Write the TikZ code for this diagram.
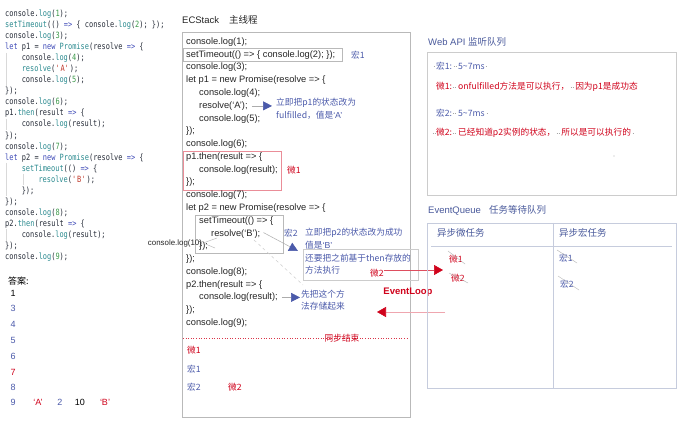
\documentclass[tikz,border=0pt]{standalone}
\usepackage{fontspec}
\setmainfont{Liberation Sans}
\newfontfamily\cjk{Noto Sans CJK SC}
\newfontfamily\codefont[FakeStretch=0.81]{DejaVu Sans Mono}
\usetikzlibrary{arrows.meta}
\definecolor{blueT}{HTML}{4B5AAA}
\definecolor{redT}{HTML}{D0021B}
\definecolor{titleT}{HTML}{4A5A9C}
\definecolor{kwC}{HTML}{3F4BB8}
\definecolor{fnC}{HTML}{2A8A8F}
\definecolor{numC}{HTML}{3C9A4A}
\definecolor{strC}{HTML}{C0392B}
\definecolor{codeC}{HTML}{262C38}
\definecolor{eqC}{HTML}{C6CCDD}
\newcommand{\kw}[1]{\textcolor{kwC}{#1}}
\newcommand{\fnn}[1]{\textcolor{fnC}{#1}}
\newcommand{\nm}[1]{\textcolor{numC}{#1}}
\newcommand{\cstr}[1]{\textcolor{strC}{#1}}
\newcommand{\dotsp}[1][6pt]{{\color{gray!70}\leaders\hbox to 2pt{\hss\vrule height 0.36em depth -0.31em width 1pt\hss}\hskip #1\relax}}
\newcommand{\q}{\textquotesingle}
\begin{document}
\begin{tikzpicture}[x=1pt,y=-1pt,
  code/.style={anchor=west,inner sep=0pt,text height=6.5pt,text depth=1.5pt,font=\codefont\fontsize{8.6}{9}\selectfont,text=codeC},
  mc/.style={anchor=west,inner sep=0pt,text height=7pt,text depth=2pt,font=\fontsize{9.3}{11}\selectfont,text=black!85},
  cjkb/.style={inner sep=0pt,font=\cjk\fontsize{8.7}{12.5}\selectfont,text=blueT},
  cjkr/.style={inner sep=0pt,font=\cjk\fontsize{8.7}{12.5}\selectfont,text=redT},
  ans/.style={anchor=west,inner sep=0pt,font=\fontsize{9}{10}\selectfont},
  ttl/.style={anchor=west,inner sep=0pt,font=\fontsize{9.5}{11}\selectfont},
  glink/.style={draw=gray!65,line width=0.5pt},
  btip/.style={-{Triangle[color=blueT,fill=blueT,length=9pt,width=9pt]}},
  rtip/.style={-{Triangle[color=redT,fill=redT,length=9pt,width=10pt]}},
  strike/.style={draw=gray!60,line width=0.4pt},
  guide/.style={draw=gray!30,line width=0.6pt}]
\useasboundingbox (0,0) rectangle (686,427);
\fill[white] (0,0) rectangle (686,427);

% ---------- left source code ----------
\draw[guide] (6,53) -- (6,86);
\draw[guide] (6,119) -- (6,130);
\draw[guide] (6,163) -- (6,196);
\draw[guide] (23,174) -- (23,185);
\draw[guide] (6,229) -- (6,241);
\node[code] (l0)  at (5,14.0)   {console.\fnn{log}(\nm{1});};
\node[code] (l1)  at (5,25.1)   {\fnn{setTimeout}(() \kw{=>} \{ console.\fnn{log}(\nm{2}); \});};
\node[code] (l2)  at (5,36.1)   {console.\fnn{log}(\nm{3});};
\node[code] (l3)  at (5,47.2)   {\kw{let} p1 = \kw{new} \fnn{Promise}(resolve \kw{=>} \{};
\node[code] (l4)  at (21.6,58.2) {console.\fnn{log}(\nm{4});};
\node[code] (l5)  at (21.6,69.3) {\fnn{resolve}(\cstr{\q A\q});};
\node[code] (l6)  at (21.6,80.3) {console.\fnn{log}(\nm{5});};
\node[code] (l7)  at (5,91.4)   {\});};
\node[code] (l8)  at (5,102.4)  {console.\fnn{log}(\nm{6});};
\node[code] (l9)  at (5,113.5)  {p1.\fnn{then}(result \kw{=>} \{};
\node[code] (l10) at (21.6,124.5) {console.\fnn{log}(result);};
\node[code] (l11) at (5,135.6)  {\});};
\node[code] (l12) at (5,146.6)  {console.\fnn{log}(\nm{7});};
\node[code] (l13) at (5,157.7)  {\kw{let} p2 = \kw{new} \fnn{Promise}(resolve \kw{=>} \{};
\node[code] (l14) at (21.6,168.7) {\fnn{setTimeout}(() \kw{=>} \{};
\node[code] (l15) at (38.3,179.8) {\fnn{resolve}(\cstr{\q B\q});};
\node[code] (l16) at (21.6,190.8) {\});};
\node[code] (l17) at (5,201.9)  {\});};
\node[code] (l18) at (5,212.9)  {console.\fnn{log}(\nm{8});};
\node[code] (l19) at (5,224.0)  {p2.\fnn{then}(result \kw{=>} \{};
\node[code] (l20) at (21.6,235.0) {console.\fnn{log}(result);};
\node[code] (l21) at (5,246.1)  {\});};
\node[code] (l22) at (5,257.1)  {console.\fnn{log}(\nm{9});};

% ---------- answers ----------
\node[ans,font=\cjk\fontsize{9}{10}\selectfont] (a0) at (8,281) {答案:};
\node[ans] (a1) at (10.5,293) {1};
\node[ans,text=blueT] (a3) at (10.5,308.5) {3};
\node[ans,text=blueT] (a4) at (10.5,324.5) {4};
\node[ans,text=blueT] (a5) at (10.5,340.5) {5};
\node[ans,text=blueT] (a6) at (10.5,356.5) {6};
\node[ans,text=redT]  (a7) at (10.5,372) {7};
\node[ans,text=blueT] (a8) at (10.5,387) {8};
\node[ans,text=blueT] (a9) at (10.5,402) {9};
\node[ans,text=redT,anchor=center]  (aA) at (38,402) {`A'};
\node[ans,text=blueT,anchor=center] (a2) at (60,402) {2};
\node[ans,anchor=center] (a10) at (80,402) {10};
\node[ans,text=redT,anchor=center]  (aB) at (105,402) {`B'};

% ---------- ECStack panel ----------
\node[ttl,text=black!85] (ect) at (182,20) {ECStack\hspace{10pt}{\cjk 主线程}};
\draw[gray!55,line width=0.7pt] (182,32) rectangle (410,417);
\draw[gray!55,line width=0.6pt] (183,48.5) rectangle (342,61.5);
\draw[draw=redT!45,line width=0.6pt] (183,151) rectangle (281,190);
\draw[gray!55,line width=0.6pt] (195,215) rectangle (283,253);

\node[mc] (m0)  at (186,42.0)  {console.log(1);};
\node[mc] (m1)  at (186,54.8)  {setTimeout(() => \{ console.log(2); \});};
\node[mc] (m2)  at (186,67.5)  {console.log(3);};
\node[mc] (m3)  at (186,80.3)  {let p1 = new Promise(resolve => \{};
\node[mc] (m4)  at (199,93.1)  {console.log(4);};
\node[mc] (m5)  at (199,105.9) {resolve(`A');};
\node[mc] (m6)  at (199,118.6) {console.log(5);};
\node[mc] (m7)  at (186,131.4) {\});};
\node[mc] (m8)  at (186,144.2) {console.log(6);};
\node[mc] (m9)  at (186,156.9) {p1.then(result => \{};
\node[mc] (m10) at (199,169.7) {console.log(result);};
\node[mc] (m11) at (186,182.5) {\});};
\node[mc] (m12) at (186,195.2) {console.log(7);};
\node[mc] (m13) at (186,208.0) {let p2 = new Promise(resolve => \{};
\node[mc] (m14) at (199,220.8) {setTimeout(() => \{};
\node[mc] (m15) at (211,233.6) {resolve(`B');};
\node[mc] (m16) at (199,246.3) {\});};
\node[mc] (m17) at (186,259.1) {\});};
\node[mc] (m18) at (186,271.9) {console.log(8);};
\node[mc] (m19) at (186,284.6) {p2.then(result => \{};
\node[mc] (m20) at (199,297.4) {console.log(result);};
\node[mc] (m21) at (186,310.2) {\});};
\node[mc] (m22) at (186,322.9) {console.log(9);};

\node[cjkb] (h1) at (358,55) {宏1};
\node[cjkr] (w1) at (294,170) {微1};
\node[cjkb] (h2) at (291,233.6) {宏2};

% notes
\node[cjkb,anchor=west,align=left] (n1) at (276,109) {立即把p1的状态改为\\fulfilled，值是{\rmfamily `A'}};
\draw[glink,btip] ([xshift=4pt]m5.east) -- ([xshift=-4pt]n1.west |- m5.east);

\node[cjkb,anchor=west,align=left] (n2) at (305,238.5) {立即把p2的状态改为成功\\值是{\rmfamily `B'}};
\node[draw=gray!40,line width=0.6pt,anchor=north west,minimum width=115pt,minimum height=31pt,inner sep=0pt] (n2box) at (303,249) {};
\node[cjkb,anchor=west,align=left] (n2b) at (305,264) {还要把之前基于then存放的\\方法执行};
\coordinate (h2tip) at (298,251);
\draw[glink,btip] ([xshift=3pt,yshift=1pt]m15.east) -- (h2tip);
\coordinate (dstart) at (254,240);
\coordinate (dend) at (303,285);
\draw[gray!40,dashed,line width=0.5pt] (dstart) -- (dend);

\node[cjkb,anchor=west,align=left] (n3) at (301,300) {先把这个方\\法存储起来};
\draw[glink,btip] ([xshift=4pt]m20.east) -- ([xshift=-1pt]n3.west |- m20.east);

% console.log(10) callout
\node[inner sep=0pt,font=\fontsize{7.9}{9}\selectfont,text=black!85] (c10) at (175,243) {console.log(10)};
\draw[gray!60,line width=0.4pt] (217,238) -- ([xshift=1pt]c10.east) -- (215,248);

% sync end
\draw[redT!80,dotted,line width=0.6pt] (183,338) -- (409,338);
\node[cjkr] (sync) at (342,338) {同步结束};
\node[cjkr,anchor=west] (o1) at (187,350) {微1};
\node[cjkb,anchor=west] (o2) at (187,369) {宏1};
\node[cjkb,anchor=west] (o3) at (187,387) {宏2};
\node[cjkr,anchor=west] (o4) at (228,387) {微2};

% event loop
\node[cjkr] (wei2) at (377,273) {微2};
\coordinate (eqin) at (443,270);
\draw[draw=redT!70,line width=0.6pt,rtip] ([yshift=3pt]wei2.east) -- (eqin);
\node[inner sep=0pt,font=\bfseries\fontsize{9.5}{11}\selectfont,text=redT] (el) at (408,292) {EventLoop};
\coordinate (elstart) at (445,312);
\coordinate (elend) at (377,312);
\draw[draw=redT!35,line width=0.6pt,rtip] (elstart) -- (elend);

% ---------- Web API ----------
\node[ttl,text=titleT] (wat) at (428,42) {Web API {\cjk 监听队列}};
\draw[gray!40,line width=0.7pt] (427,52) rectangle (676,195);
\node[cjkb,anchor=west] (wa1) at (433,66) {\dotsp[3pt]宏1:\dotsp 5\textasciitilde7ms\dotsp[3pt]};
\node[cjkr,anchor=west] (wa2) at (436,87) {微1:\dotsp onfulfilled方法是可以执行，\dotsp 因为p1是成功态};
\node[cjkb,anchor=west] (wa3) at (436,113) {宏2:\dotsp 5\textasciitilde7ms\dotsp[5pt]};
\node[cjkr,anchor=west] (wa4) at (432,133) {\dotsp[4pt]微2:\dotsp 已经知道p2实例的状态，\dotsp 所以是可以执行的\dotsp[5pt]};
\fill[gray!60] (614,156) circle (0.6pt);

% ---------- EventQueue ----------
\node[ttl,text=titleT] (eqt) at (428,210) {EventQueue\hspace{8pt}{\cjk 任务等待队列}};
\draw[eqC,line width=0.7pt] (427,223) rectangle (676,388);
\draw[eqC,line width=0.7pt] (553,223) -- (553,388);
\draw[eqC,line width=0.9pt] (431,246) -- (672,246);
\node[cjkb,anchor=west,font=\cjk\fontsize{9.5}{11}\selectfont,text=titleT] (q1) at (437,233) {异步微任务};
\node[cjkb,anchor=west,font=\cjk\fontsize{9.5}{11}\selectfont,text=titleT] (q2) at (559,233) {异步宏任务};
\node[cjkr] (qw1) at (456,259) {微1};
\node[cjkr] (qw2) at (458,278) {微2};
\node[cjkb] (qh1) at (566,258) {宏1};
\node[cjkb] (qh2) at (567,284) {宏2};
\draw[strike] (448,251) -- (465,264);
\draw[strike] (449,273) -- (468,283);
\draw[strike] (557,250) -- (577,263);
\draw[strike] (558,276) -- (579,290);
\end{tikzpicture}
\end{document}
